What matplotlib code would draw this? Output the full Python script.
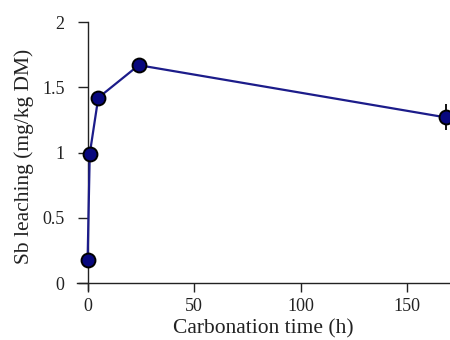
import matplotlib
matplotlib.use("Agg")
import matplotlib.pyplot as plt

time_h = [0, 1, 5, 24, 168]
sb_leach = [0.18, 0.99, 1.42, 1.67, 1.27]
sb_err = [0.0, 0.0, 0.0, 0.0, 0.1]
xticks = [0, 50, 100, 150]
yticks = [0, 0.5, 1, 1.5, 2]
ytick_labels = ["0", "0.5", "1", "1.5", "2"]

plt.rcParams['font.family'] = ['Liberation Serif', 'DejaVu Serif']

fig = plt.figure(figsize=(4.5, 3.4), dpi=100)
ax = fig.add_axes([0.171, 0.148, 0.829, 0.787])

ax.errorbar(time_h, sb_leach, yerr=sb_err, color='#1c1c8a', lw=1.6,
            marker='o', ms=10, mfc='#08087e', mec='black', mew=1.4,
            ecolor='black', elinewidth=1.3, capsize=0, zorder=3)

ax.set_xlim(-5, 170)
ax.set_ylim(-0.05, 2)
ax.spines['left'].set_position(('data', 0))
ax.spines['bottom'].set_position(('data', 0))
ax.spines['right'].set_visible(False)
ax.spines['top'].set_visible(False)
ax.spines['left'].set_bounds(-0.05, 2)
for s in ('left', 'bottom'):
    ax.spines[s].set_linewidth(1.0)
    ax.spines[s].set_color('#222222')

ax.set_xticks(xticks)
ax.set_yticks(yticks)
ax.set_yticklabels(ytick_labels)
ax.tick_params(direction='out', length=7, width=1.0, labelsize=13, colors='#222222')
ax.tick_params(axis='x', length=6.5, pad=4)
ax.tick_params(axis='y', pad=9.5)

ax.set_xlabel('Carbonation time (h)', fontsize=15.5, color='#222222', labelpad=3)
ax.set_ylabel('Sb leaching (mg/kg DM)', fontsize=15.5, color='#222222', labelpad=6)

fig.savefig('out.png', dpi=100)
